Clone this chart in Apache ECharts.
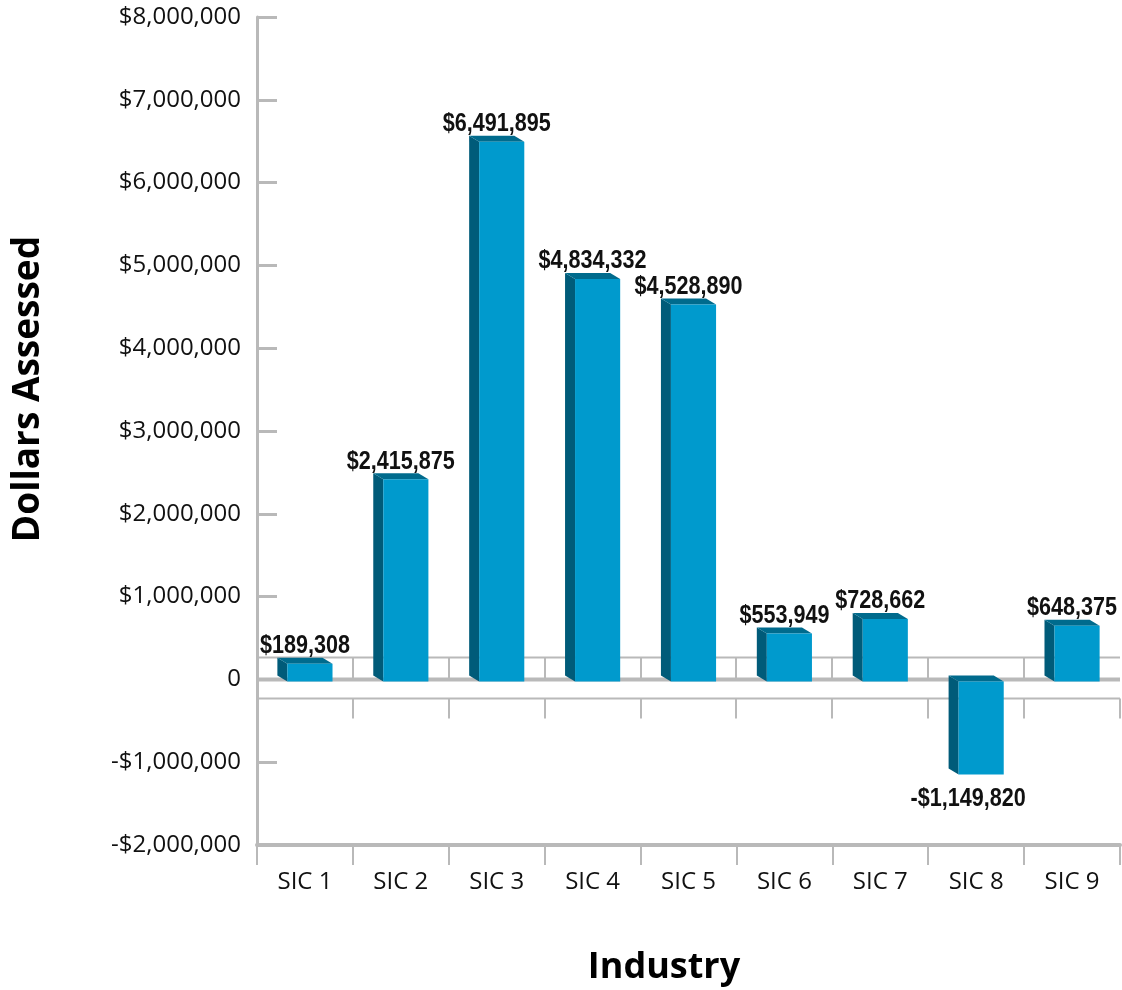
<!DOCTYPE html>
<html>
<head>
<meta charset="utf-8">
<script src="https://cdn.jsdelivr.net/npm/echarts@6/dist/echarts.min.js"></script>
<style>
  html, body { margin: 0; padding: 0; background: #fff; }
  #chart { width: 1122px; height: 990px; }
</style>
</head>
<body>
<div id="chart"></div>
<script>
const categories = ['SIC 1', 'SIC 2', 'SIC 3', 'SIC 4', 'SIC 5', 'SIC 6', 'SIC 7', 'SIC 8', 'SIC 9']
const assessed = [189308, 2415875, 6491895, 4834332, 4528890, 553949, 728662, -1149820, 648375]
const yMin = -2000000
const yMax = 8000000
const yStep = 1000000

const gray = '#b9b9b9'
const front = '#009acd'
const side = '#005b79'
const topFace = '#006b8d'
const labelFont = '"Liberation Sans", Arial, sans-serif'
const tickFont = '"Open Sans", "Noto Sans", sans-serif'

function money(v) {
  if (v === 0) return '0'
  let s = Math.abs(v).toLocaleString('en-US')
  return (v < 0 ? '-$' : '$') + s
}

// 地板 (the 3d floor band around zero)
function renderFloor(params, api) {
  const cs = params.coordSys
  const zero = api.coord([0, 0])[1]
  const band = api.size([1, 0])[0]
  const x0 = cs.x
  const x1 = cs.x + cs.width
  const ls = { stroke: gray, lineWidth: 2 }
  const kids = [
    { type: 'line', shape: { x1: x0, y1: zero - 22, x2: x1, y2: zero - 22 }, style: ls },
    { type: 'line', shape: { x1: x0, y1: zero + 19, x2: x1, y2: zero + 19 }, style: ls },
    { type: 'line', shape: { x1: x0, y1: zero, x2: x1, y2: zero }, style: { stroke: gray, lineWidth: 4 } },
  ]
  for (let i = 1; i <= categories.length; i++) {
    const x = Math.round(x0 + i * band)
    if (i < categories.length) {
      kids.push({ type: 'line', shape: { x1: x, y1: zero - 22, x2: x, y2: zero }, style: ls })
    }
    kids.push({ type: 'line', shape: { x1: x, y1: zero + 19, x2: x, y2: zero + 39 }, style: ls })
  }
  return { type: 'group', children: kids }
}

function renderBar(params, api) {
  const idx = api.value(0)
  const val = api.value(1)
  const base = api.coord([idx, 0])
  const end = api.coord([idx, val])
  const band = api.size([1, 0])[0]
  const w = band * 0.575
  const d = 10
  const dy = 6
  const left = base[0] - w / 2
  const fx0 = left + d
  const fx1 = left + w
  const b = base[1] + 2
  const yt = Math.min(end[1], b)
  const yb = Math.max(end[1], b)
  const kids = [
    { type: 'polygon', shape: { points: [[fx0, yt], [fx0 - d, yt - dy], [fx0 - d, yb - dy], [fx0, yb]] }, style: { fill: side } },
    { type: 'polygon', shape: { points: [[fx0, yt], [fx1, yt], [fx1 - d, yt - dy], [fx0 - d, yt - dy]] }, style: { fill: topFace } },
    { type: 'rect', shape: { x: fx0, y: yt, width: fx1 - fx0, height: yb - yt }, style: { fill: front } },
    {
      type: 'text',
      x: val >= 0 ? base[0] : base[0] - 8,
      y: val >= 0 ? yt - dy + 1 : yb + 11,
      scaleX: 0.83,
      style: {
        text: money(val),
        fill: '#111',
        font: 'bold 26px ' + labelFont,
        align: 'center',
        verticalAlign: val >= 0 ? 'bottom' : 'top',
      },
    },
  ]
  return { type: 'group', children: kids }
}

let chart = echarts.init(document.getElementById('chart'))

let option = {
  animation: false,
  grid: { left: 257, right: 2, top: 17, bottom: 145, outerBoundsMode: 'none' },
  xAxis: {
    type: 'category',
    data: categories,
    axisLine: { onZero: false, lineStyle: { color: gray, width: 4 } },
    axisTick: { show: true, length: 20, lineStyle: { color: gray, width: 2 } },
    axisLabel: { color: '#111', fontSize: 24, fontFamily: tickFont, margin: 25 },
    splitLine: { show: false },
  },
  yAxis: {
    type: 'value',
    min: yMin,
    max: yMax,
    interval: yStep,
    axisLine: { show: true, lineStyle: { color: gray, width: 3 } },
    axisTick: { show: true, inside: true, length: 20, lineStyle: { color: gray, width: 3 } },
    axisLabel: { color: '#111', fontSize: 24, fontFamily: tickFont, margin: 16, formatter: money, padding: [5, 0, 0, 0] },
    splitLine: { show: false },
  },
  graphic: [
    {
      type: 'text',
      x: 28,
      y: 389,
      rotation: Math.PI / 2,
      style: {
        text: 'Dollars Assessed',
        font: 'bold 37px ' + tickFont,
        fill: '#000',
        align: 'center',
        verticalAlign: 'middle',
      },
    },
    {
      type: 'text',
      x: 664,
      y: 968,
      style: {
        text: 'Industry',
        font: 'bold 36px ' + tickFont,
        fill: '#000',
        align: 'center',
        verticalAlign: 'middle',
      },
    },
  ],
  series: [
    {
      type: 'custom',
      name: 'floor',
      renderItem: renderFloor,
      data: [[0, 0]],
      z: 1,
      silent: true,
    },
    {
      type: 'custom',
      name: 'Dollars Assessed',
      renderItem: renderBar,
      data: assessed.map((v, i) => [i, v]),
      encode: { x: 0, y: 1 },
      z: 3,
    },
  ],
}

chart.setOption(option)
</script>
</body>
</html>
